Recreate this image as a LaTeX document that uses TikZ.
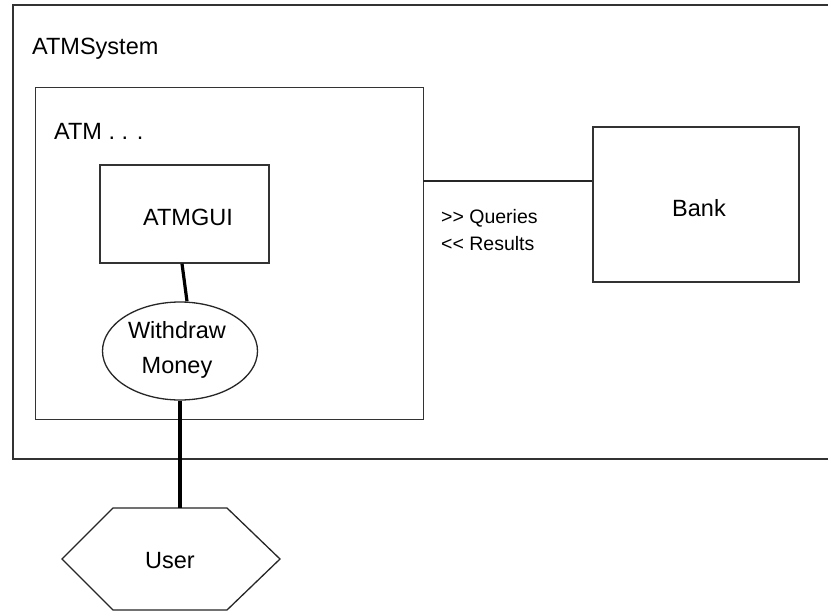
\documentclass[tikz,border=0pt]{standalone}
\usepackage{fontspec}
\setmainfont{Liberation Sans}[Ligatures=TeXOff]
\usetikzlibrary{shapes.geometric}
\begin{document}
\begin{tikzpicture}[x=1pt,y=-1pt,
  box/.style={draw=black!80, line width=1.3pt, inner sep=0pt},
  heavy/.style={draw=black, line width=3.2pt},
  link/.style={draw=black!85, line width=1.3pt},
  lbl/.style={font=\fontsize{23.5}{28}\selectfont, inner sep=0pt},
  small/.style={font=\fontsize{19.5}{23}\selectfont, inner sep=0pt, anchor=west}]
\useasboundingbox (0,0) rectangle (828,614);
\fill[white] (0,0) rectangle (828,614);
% outer ATMSystem frame (runs past the right edge)
\draw[box] (828,5) -- (13,5) -- (13,459) -- (828,459);
\node[lbl, anchor=west] (sys) at (32,49) {ATMSystem};
% ATM box
\node[box, minimum width=388, minimum height=332, anchor=north west] (atm) at (35,87) {};
\node[lbl, anchor=west] (atmlbl) at (54,131) {ATM . . .};
% ATMGUI
\node[box, minimum width=169, minimum height=98] (gui) at (184.5,214) {};
\node[lbl] (guilbl) at (188,217) {ATMGUI};
% Withdraw Money
\node[draw=black!85, line width=1.3pt, ellipse, minimum width=155, minimum height=98, inner sep=0pt] (wm) at (180,351) {};
\node[lbl, align=center, font=\fontsize{23.5}{35}\selectfont] (wmlbl) at (177,350) {Withdraw\\Money};
% Bank
\node[box, minimum width=206, minimum height=155] (bank) at (696,204.5) {};
\node[lbl] (banklbl) at (699,208) {Bank};
% link ATM -- Bank
\coordinate (c1) at (423,181);
\draw[link] (c1) -- (c1 -| bank.west);
\node[small] (q) at (441,218) {>> Queries};
\node[small] (r) at (441,244) {<< Results};
% User hexagon
\coordinate (usertop) at (180,508);
\draw[link] (113,508) -- (227,508) -- (280,559) -- (227,610) -- (113,610) -- (62,559) -- cycle;
\node[lbl] (user) at (170,561) {User};
% heavy connectors
\draw[heavy] ([xshift=-2.5pt]gui.south) -- ([xshift=7pt]wm.north);
\draw[heavy] (wm.south) -- (usertop);
\end{tikzpicture}
\end{document}
